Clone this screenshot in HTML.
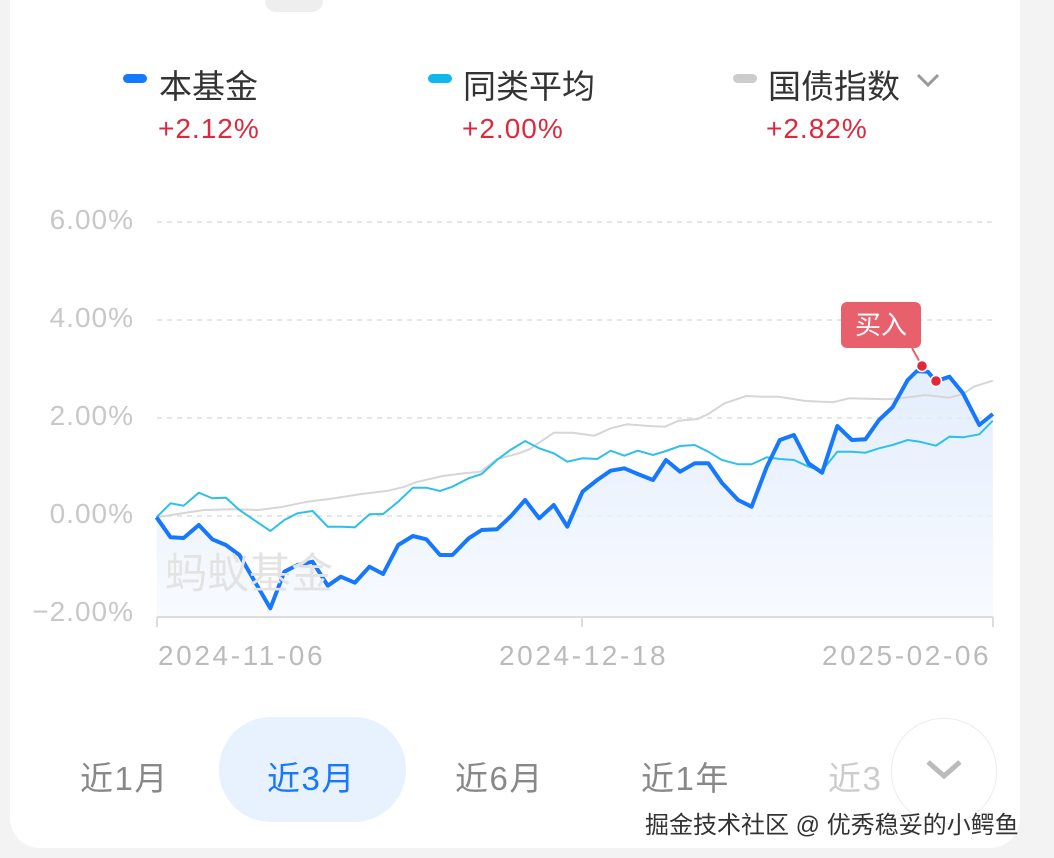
<!DOCTYPE html>
<html><head><meta charset="utf-8"><style>
body{margin:0;width:1054px;height:858px;background:#f3f3f3;overflow:hidden;font-family:"Liberation Sans","Noto Sans CJK SC",sans-serif;position:relative}
.card{position:absolute;left:10px;top:-40px;width:1010px;height:888px;background:#fff;border-radius:30px}
.t{position:absolute;white-space:nowrap}
.y{position:absolute;width:98px;text-align:right;font-size:28px;color:#c8c8c8;letter-spacing:1px;left:36px}
.x{position:absolute;font-size:28px;color:#bbb;letter-spacing:2.6px}
.tab{position:absolute;top:752px;font-size:33px;color:#888;letter-spacing:1.5px}
</style></head><body>
<div class="card"></div>
<div style="position:absolute;left:265px;top:-10px;width:58px;height:22px;border-radius:11px;background:#eee"></div>
<div class="t" style="left:219px;top:717px;width:187px;height:105px;border-radius:52px;background:#e8f1fe"></div>
<div class="t" style="left:891px;top:718px;width:104px;height:104px;border-radius:52px;background:#fff;border:1px solid #eee"></div>
<svg width="1054" height="858" style="position:absolute;left:0;top:0" id="s"></svg>
<div class="t" style="left:123px;top:74px;width:24px;height:9px;border-radius:5px;background:#1677ff"></div>
<div class="t" style="left:159px;top:60px;font-size:33px;color:#333">本基金</div>
<div class="t" style="left:158px;top:113px;font-size:28px;color:#e0283c;letter-spacing:1px">+2.12%</div>
<div class="t" style="left:428px;top:74px;width:24px;height:9px;border-radius:5px;background:#11b6ea"></div>
<div class="t" style="left:463px;top:60px;font-size:33px;color:#333">同类平均</div>
<div class="t" style="left:462px;top:113px;font-size:28px;color:#e0283c;letter-spacing:1px">+2.00%</div>
<div class="t" style="left:733px;top:74px;width:24px;height:9px;border-radius:5px;background:#ccc"></div>
<div class="t" style="left:768px;top:60px;font-size:33px;color:#333">国债指数</div>
<div class="t" style="left:766px;top:113px;font-size:28px;color:#e0283c;letter-spacing:1px">+2.82%</div>
<div class="t" style="left:165px;top:540px;font-size:42px;color:#e3e3e3">蚂蚁基金</div>
<div class="y" style="top:204px">6.00%</div>
<div class="y" style="top:302px">4.00%</div>
<div class="y" style="top:400px">2.00%</div>
<div class="y" style="top:498px">0.00%</div>
<div class="y" style="top:596px;left:26px;width:108px">−2.00%</div>
<div class="x" style="left:158px;top:640px">2024-11-06</div>
<div class="x" style="left:499px;top:640px">2024-12-18</div>
<div class="x" style="left:822px;top:640px">2025-02-06</div>
<div class="t" style="left:841px;top:302px;width:80px;height:46px;border-radius:6px;background:#e8606c;color:#fff;font-size:26px;text-align:center;line-height:46px">买入</div>
<div class="tab" style="left:80px">近1月</div>
<div class="tab" style="left:267px;color:#1677ff">近3月</div>
<div class="tab" style="left:455px">近6月</div>
<div class="tab" style="left:641px">近1年</div>
<div class="tab" style="left:828px;color:#ccc">近3</div>
<div class="t" style="left:891px;top:718px;width:104px;height:104px;border-radius:52px;background:#fff;border:1px solid #eee"></div>
<svg width="60" height="40" style="position:absolute;left:914px;top:750px"><polyline points="14,12 30,26 46,12" fill="none" stroke="#bbb" stroke-width="5"/></svg>
<div class="t" style="left:645px;top:805px;font-size:24px;color:#333;text-shadow:0 0 2px #fff,0 0 2px #fff">掘金技术社区 @ 优秀稳妥的小鳄鱼</div>
<script>
var s=document.getElementById('s'),h='';
function P(a){return a.map(function(p){return [(150+p[0]/1.845).toFixed(1),(300+p[1]/3).toFixed(1)]})}
function L(pts){return pts.map(function(p){return p.join(',')}).join(' ')}
[222,320,418,516].forEach(function(y){h+='<line x1="157" x2="993" y1="'+y+'" y2="'+y+'" stroke="#ddd" stroke-dasharray="5,5" stroke-width="1.5"/>'});
h+='<line x1="157" x2="993" y1="617" y2="617" stroke="#ddd" stroke-width="2"/>';
[157,582,993].forEach(function(x){h+='<line x1="'+x+'" x2="'+x+'" y1="617" y2="627" stroke="#ddd" stroke-width="2"/>'});
var B=P([[12,652],[38,712],[62,714],[90,675],[115,718],[140,735],[165,765],[222,925],[248,815],[272,795],[300,785],[328,857],[352,830],[378,848],[405,800],[430,822],[458,735],[485,708],[510,718],[535,765],[558,765],[588,715],[612,690],[640,688],[665,650],[692,600],[718,655],[745,615],[770,680],[798,575],[825,540],[850,512],[875,505],[900,522],[928,540],[952,480],[978,515],[1005,490],[1030,490],[1055,548],[1085,600],[1110,620],[1138,500],[1162,420],[1188,405],[1215,490],[1240,518],[1268,378],[1295,420],[1320,418],[1345,360],[1370,322],[1398,240],[1415,213],[1435,215],[1450,244],[1475,230],[1500,280],[1530,375],[1555,342]]);
var C=P([[12,652],[38,610],[62,617],[90,578],[115,595],[140,593],[165,630],[222,693],[248,660],[272,640],[300,633],[328,680],[352,680],[378,682],[405,643],[430,642],[458,605],[485,563],[510,563],[535,573],[558,560],[588,535],[612,522],[640,480],[665,450],[692,423],[718,445],[745,460],[770,485],[798,475],[825,477],[850,452],[875,467],[900,452],[928,465],[952,453],[978,438],[1005,435],[1030,455],[1055,480],[1085,493],[1110,493],[1138,472],[1162,477],[1188,480],[1215,500],[1240,512],[1268,455],[1295,455],[1320,458],[1345,445],[1370,435],[1398,420],[1420,425],[1450,437],[1475,410],[1500,412],[1530,403],[1555,362]]);
var G=P([[12,652],[60,640],[100,630],[150,628],[200,630],[240,622],[290,605],[340,595],[390,582],[440,572],[470,560],[490,547],[540,528],[580,520],[610,515],[640,478],[680,460],[700,448],[745,398],[780,398],[820,407],[850,385],[880,373],[920,378],[950,380],[975,362],[1010,357],[1030,342],[1060,310],[1100,288],[1130,290],[1160,290],[1210,303],[1260,307],[1290,295],[1360,298],[1400,292],[1430,285],[1475,293],[1500,282],[1520,260],[1555,242]]);
h+='<defs><linearGradient id="g" x1="0" y1="0" x2="0" y2="1"><stop offset="0" stop-color="#dce9fc"/><stop offset="1" stop-color="#f6f9ff"/></linearGradient></defs>';
h+='<polygon points="'+L(B)+' 993,616 157,616" fill="url(#g)" opacity="0.8"/>';
h+='<polyline points="'+L(G)+'" fill="none" stroke="#d6d6d6" stroke-width="2"/>';
h+='<polyline points="'+L(C)+'" fill="none" stroke="#2fc0ea" stroke-width="2"/>';
h+='<polyline points="'+L(B)+'" fill="none" stroke="#1677ff" stroke-width="4" stroke-linejoin="round"/>';
h+='<line x1="912" y1="348" x2="922" y2="366" stroke="#e8606c" stroke-width="2"/>';
h+='<circle cx="922" cy="366" r="5.5" fill="#e0283c" stroke="#fff" stroke-width="1.5"/><circle cx="936" cy="381" r="5.5" fill="#e0283c" stroke="#fff" stroke-width="1.5"/>';
h+='<polyline points="918,75 928,85 938,75" fill="none" stroke="#999" stroke-width="3"/>';
s.innerHTML=h;
</script>
</body></html>
